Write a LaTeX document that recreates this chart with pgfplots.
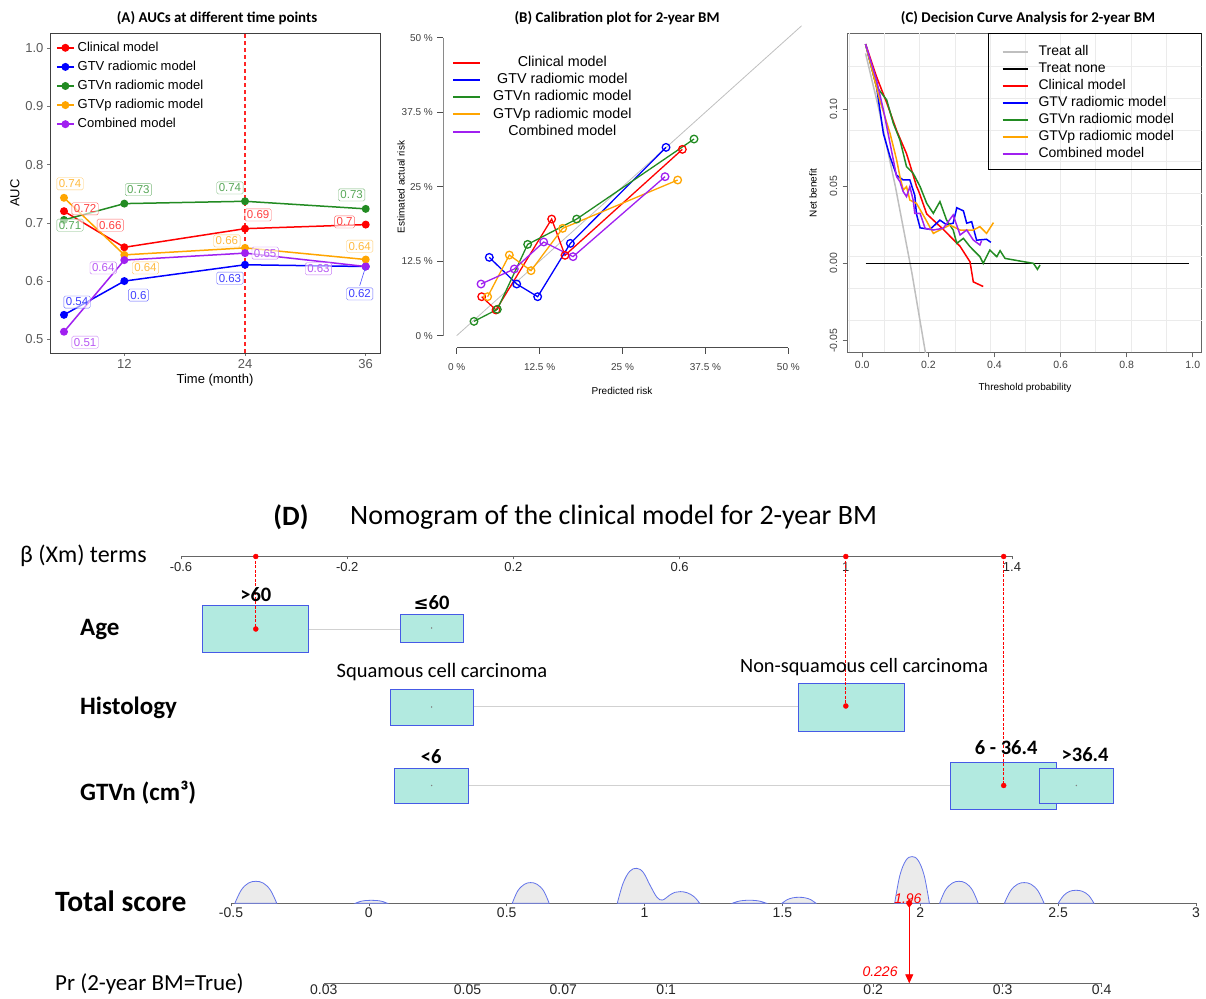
\documentclass[border=0pt]{standalone}
\usepackage{fontspec}
\setmainfont{Liberation Sans}
\newfontfamily\carlito{Carlito}
\newfontfamily\dejavu{DejaVu Sans}
\usepackage{pgfplots}
\pgfplotsset{compat=1.18}
\usetikzlibrary{arrows.meta}
\definecolor{cRed}{HTML}{FF0000}
\definecolor{cBlue}{HTML}{0000FF}
\definecolor{cGreen}{HTML}{228B22}
\definecolor{cOrange}{HTML}{FFA500}
\definecolor{cPurple}{HTML}{A020F0}
\definecolor{boxfill}{RGB}{178,234,224}
\definecolor{boxline}{RGB}{70,90,230}
\newcommand{\fs}[1]{\fontsize{#1}{#1}\selectfont}
\pgfplotsset{
  every axis/.append style={/pgf/number format/assume math mode=true},
  nomo/.style={scale only axis, anchor=south west, hide y axis, axis x line*=bottom,
     ymin=0, ymax=1, height=10pt,
     axis line style={black!60, line width=1.1pt}, tick align=outside, major tick length=3pt,
     tick style={black!60, line width=0.6pt},
     xticklabel style={font=\fs{13}, text=black!85, inner sep=1pt}},
  bump/.style={draw=boxline!85, fill=black!8, line width=0.8pt, smooth, tension=0.6, no markers},
}
\tikzset{lab/.style={draw=#1!60!white, text=#1!75!white, fill=white, fill opacity=0.6, text opacity=1,
  rounded corners=1.5pt, inner sep=2pt, font=\fs{11.5}},
  reddot/.style={draw=cRed, line width=1pt, dash pattern=on 3pt off 1.5pt}}
\begin{document}
\begin{tikzpicture}[x=1pt,y=1pt]
\useasboundingbox (0pt,0pt) rectangle (1206pt,998pt);

% ---------------- Panel titles
\node[font=\carlito\bfseries\fs{14.9}] at (217pt,980pt) {(A) AUCs at different time points};
\node[font=\carlito\bfseries\fs{14.9}] at (617pt,980pt) {(B) Calibration plot for 2-year BM};
\node[font=\carlito\bfseries\fs{14.9}] at (1028pt,980pt) {(C) Decision Curve Analysis for 2-year BM};

% ---------------- Panel A
\begin{axis}[at={(50pt,645pt)}, anchor=south west, scale only axis, width=330pt, height=320pt,
  xmin=4.61, xmax=37.42, ymin=0.4765, ymax=1.026,
  xtick={12,24,36}, ytick={0.5,0.6,0.7,0.8,0.9,1.0},
  yticklabels={0.5,0.6,0.7,0.8,0.9,1.0},
  tick pos=left, tick align=outside, major tick length=3pt,
  tick style={black!55, line width=0.6pt},
  tick label style={font=\fs{13}, text=black!65},
  axis line style={black!75, line width=0.7pt},
  clip mode=individual,
  legend style={at={(0.018,0.977)}, anchor=north west, draw=none, fill=none, font=\fs{13},
     row sep=4.6pt, inner sep=0pt, nodes={inner ysep=1pt, inner xsep=3pt, text height=9.5pt, text depth=3pt}},
  legend cell align=left,
  legend image code/.code={\draw[mark repeat=2,mark phase=2] plot coordinates {(0pt,0pt) (8.5pt,0pt) (17pt,0pt)};},
]
\addplot[draw=cRed!85, line width=1.1pt, forget plot, dash pattern=on 4pt off 3pt] coordinates {(24,0.4765) (24,1.026)};
\addplot[cRed, line width=1.5pt, mark=*, mark size=3.2pt] coordinates {(6,0.720) (12,0.658) (24,0.690) (36,0.697)};
\addlegendentry{Clinical model}
\addplot[cBlue, line width=1.5pt, mark=*, mark size=3.2pt] coordinates {(6,0.542) (12,0.600) (24,0.628) (36,0.625)};
\addlegendentry{GTV radiomic model}
\addplot[cGreen, line width=1.5pt, mark=*, mark size=3.2pt] coordinates {(6,0.705) (12,0.733) (24,0.737) (36,0.724)};
\addlegendentry{GTVn radiomic model}
\addplot[cOrange, line width=1.5pt, mark=*, mark size=3.2pt] coordinates {(6,0.743) (12,0.645) (24,0.657) (36,0.637)};
\addlegendentry{GTVp radiomic model}
\addplot[cPurple, line width=1.5pt, mark=*, mark size=3.2pt] coordinates {(6,0.513) (12,0.636) (24,0.648) (36,0.625)};
\addlegendentry{Combined model}
\draw[cBlue!70, line width=0.6pt] (axis cs:35.4,0.592) -- (axis cs:36,0.625);
\node[lab=cOrange] at (axis cs:6.6,0.767) {0.74};
\node[lab=cRed] at (axis cs:8.1,0.724) {0.72};
\node[lab=cGreen] at (axis cs:6.6,0.696) {0.71};
\node[lab=cGreen] at (axis cs:13.4,0.757) {0.73};
\node[lab=cRed] at (axis cs:10.6,0.696) {0.66};
\node[lab=cPurple] at (axis cs:9.9,0.6225) {0.64};
\node[lab=cOrange] at (axis cs:14.1,0.6225) {0.64};
\node[lab=cBlue] at (axis cs:13.4,0.576) {0.6};
\node[lab=cBlue] at (axis cs:7.3,0.564) {0.54};
\node[lab=cPurple] at (axis cs:8.1,0.495) {0.51};
\node[lab=cGreen] at (axis cs:22.5,0.760) {0.74};
\node[lab=cRed] at (axis cs:25.3,0.7136) {0.69};
\node[lab=cOrange] at (axis cs:22.2,0.669) {0.66};
\node[lab=cPurple] at (axis cs:26.0,0.648) {0.65};
\node[lab=cBlue] at (axis cs:22.5,0.605) {0.63};
\node[lab=cGreen] at (axis cs:34.6,0.748) {0.73};
\node[lab=cRed] at (axis cs:33.9,0.7015) {0.7};
\node[lab=cOrange] at (axis cs:35.4,0.660) {0.64};
\node[lab=cPurple] at (axis cs:31.3,0.621) {0.63};
\node[lab=cBlue] at (axis cs:35.4,0.578) {0.62};
\end{axis}
\node[rotate=90, font=\fs{13}] at (15pt,805pt) {AUC};
\node[font=\fs{13}] at (215pt,618pt) {Time (month)};

% ---------------- Panel B
\begin{axis}[at={(443.4pt,650.4pt)}, anchor=south west, scale only axis, width=358.2pt, height=321.8pt,
  xmin=-2, xmax=52, ymin=-2, ymax=52,
  axis x line*=bottom, axis y line*=left, axis line style={draw=none},
  xtick={0,12.5,25,37.5,50}, xticklabels={0 \%,12.5 \%,25 \%,37.5 \%,50 \%},
  ytick={0,12.5,25,37.5,50}, yticklabels={0 \%,12.5 \%,25 \%,37.5 \%,50 \%},
  tick align=outside, major tick length=6pt, tick style={black!70, line width=0.6pt},
  tick label style={font=\fs{10}, text=black!75},
  xticklabel style={yshift=-6pt}, yticklabel style={xshift=-1pt},
  legend style={at={(0.024,0.912)}, anchor=north west, draw=none, fill=none, font=\fs{14.3},
     row sep=0.8pt, inner sep=0pt, nodes={inner ysep=1pt, inner xsep=12pt, text height=11pt, text depth=3.5pt}},
  legend cell align=center,
  legend image code/.code={\draw[line width=2pt] (0pt,0pt) -- (27pt,0pt);},
]
\addplot[black!25, line width=0.8pt, forget plot] coordinates {(0,0) (52,52)};
\addplot[cRed, line width=1.3pt, mark=o, mark size=3.8pt, mark options={line width=1.3pt}] coordinates {(3.77,6.54) (5.93,4.31) (14.32,19.57) (16.33,13.48) (34.02,31.26)};
\addlegendentry{Clinical model}
\addplot[cBlue, line width=1.3pt, mark=o, mark size=3.8pt, mark options={line width=1.3pt}] coordinates {(4.92,13.14) (9.05,8.67) (12.21,6.54) (17.14,15.49) (31.56,31.60)};
\addlegendentry{GTV radiomic model}
\addplot[cGreen, line width=1.3pt, mark=o, mark size=3.8pt, mark options={line width=1.3pt}] coordinates {(2.61,2.40) (6.13,4.42) (10.70,15.32) (18.09,19.57) (35.78,33.00)};
\addlegendentry{GTVn radiomic model}
\addplot[cOrange, line width=1.3pt, mark=o, mark size=3.8pt, mark options={line width=1.3pt}] coordinates {(4.67,6.54) (7.94,13.53) (11.21,10.91) (15.98,18.01) (33.32,26.12)};
\addlegendentry{GTVp radiomic model}
\addplot[cPurple, line width=1.3pt, mark=o, mark size=3.8pt, mark options={line width=1.3pt}] coordinates {(3.67,8.67) (8.69,11.19) (13.12,15.72) (17.54,13.26) (31.41,26.68)};
\addlegendentry{Combined model}
\draw[black!70, line width=0.7pt] (axis cs:0,-2) -- (axis cs:50,-2);
\draw[black!70, line width=0.7pt] (axis cs:-2,0) -- (axis cs:-2,50);
\end{axis}
\node[rotate=90, font=\fs{10}] at (401pt,811pt) {Estimated actual risk};
\node[font=\fs{10}] at (622pt,607.3pt) {Predicted risk};

% ---------------- Panel C
\begin{axis}[at={(847.7pt,645.7pt)}, anchor=south west, scale only axis, width=354pt, height=319pt,
  xmin=-0.044, xmax=1.027, ymin=-0.0576, ymax=0.149,
  xtick={0,0.2,0.4,0.6,0.8,1}, xticklabels={0.0,0.2,0.4,0.6,0.8,1.0},
  ytick={-0.05,0,0.05,0.1}, yticklabels={-0.05,0.00,0.05,0.10},
  yticklabel style={rotate=90, anchor=south, yshift=2pt},
  tick pos=left, tick align=outside, major tick length=5pt,
  tick style={black!60, line width=0.6pt},
  tick label style={font=\fs{10.5}, text=black!75},
  axis line style={black!60, line width=0.7pt},
  extra x ticks={-0.039,0.0675,0.174,0.2805,0.387,0.4935,0.6,0.7065,0.813,0.9195},
  extra x tick labels={},
  extra y ticks={-0.0367,-0.0162,0.0043,0.0248,0.0453,0.0658,0.0863,0.1068,0.1273},
  extra y tick labels={},
  extra tick style={grid=major, major tick length=0pt},
  major grid style={black!8, line width=0.6pt},
  legend style={at={(0.434,0.9655)}, anchor=north west, draw=none, fill=none, font=\fs{14},
     row sep=1pt, inner sep=0pt, nodes={inner ysep=1pt, inner xsep=10pt, text height=10.5pt, text depth=3.5pt}},
  legend cell align=left,
  legend image code/.code={\draw[line width=2pt] (0pt,0pt) -- (25pt,0pt);},
]
\addplot[color=black!25, line width=1.5pt] coordinates {(0.01,0.136) (0.05,0.100) (0.10,0.050) (0.15,-0.006) (0.20,-0.069)};
\addlegendentry{Treat all}
\addplot[color=black, line width=1.5pt] coordinates {(0.01,0) (0.99,0)};
\addlegendentry{Treat none}
\addplot[color=cRed, line width=1.5pt] coordinates {(0.01,0.142) (0.043,0.121) (0.074,0.104) (0.104,0.086) (0.134,0.071) (0.150,0.060) (0.164,0.050) (0.172,0.046) (0.195,0.032) (0.245,0.022) (0.296,0.011) (0.326,0.001) (0.336,-0.012) (0.366,-0.015)};
\addlegendentry{Clinical model}
\addplot[color=cBlue, line width=1.5pt] coordinates {(0.01,0.142) (0.043,0.1145) (0.064,0.084) (0.084,0.069) (0.104,0.057) (0.124,0.054) (0.144,0.054) (0.159,0.044) (0.164,0.032) (0.175,0.023) (0.205,0.022) (0.235,0.028) (0.255,0.025) (0.275,0.026) (0.286,0.036) (0.306,0.034) (0.316,0.026) (0.331,0.027) (0.346,0.015) (0.376,0.0156) (0.389,0.0136)};
\addlegendentry{GTV radiomic model}
\addplot[color=cGreen, line width=1.5pt] coordinates {(0.01,0.142) (0.043,0.1145) (0.074,0.1058) (0.094,0.0907) (0.114,0.0799) (0.134,0.0626) (0.154,0.0583) (0.175,0.0497) (0.195,0.0389) (0.215,0.0324) (0.235,0.040) (0.255,0.0281) (0.275,0.0216) (0.286,0.013) (0.306,0.0162) (0.326,0.0108) (0.356,0.0043) (0.366,0.0) (0.386,0.0086) (0.407,0.0043) (0.417,0.0082) (0.432,0.0032) (0.477,0.0015) (0.518,0.0) (0.530,-0.0039) (0.538,-0.0011)};
\addlegendentry{GTVn radiomic model}
\addplot[color=cOrange, line width=1.5pt] coordinates {(0.01,0.142) (0.053,0.1058) (0.084,0.0842) (0.104,0.067) (0.114,0.0562) (0.124,0.0475) (0.134,0.0497) (0.144,0.041) (0.164,0.0389) (0.19,0.0292) (0.215,0.0194) (0.235,0.0216) (0.265,0.0248) (0.296,0.0216) (0.336,0.0216) (0.356,0.0238) (0.376,0.0194) (0.397,0.0264)};
\addlegendentry{GTVp radiomic model}
\addplot[color=cPurple, line width=1.5pt] coordinates {(0.01,0.142) (0.043,0.1188) (0.064,0.0994) (0.084,0.0778) (0.104,0.0562) (0.114,0.0529) (0.124,0.0464) (0.134,0.0432) (0.144,0.0497) (0.154,0.041) (0.159,0.0324) (0.175,0.0324) (0.19,0.0227) (0.215,0.0216) (0.245,0.0227) (0.275,0.0313) (0.296,0.0184) (0.316,0.0216) (0.336,0.0151) (0.356,0.0119) (0.361,0.0147)};
\addlegendentry{Combined model}
\draw[black, line width=0.7pt] (axis description cs:0.397,0.5737) rectangle (axis description cs:1,1);
\end{axis}
\node[rotate=90, font=\fs{10}] at (813pt,805pt) {Net benefit};
\node[font=\fs{10}] at (1025pt,610.3pt) {Threshold probability};

% ---------------- Panel D : nomogram
\node[font=\carlito\bfseries\fs{28}] at (291pt,481pt) {(D)};
\node[font=\carlito\fs{28}, anchor=west, inner sep=0pt] at (350pt,481pt) {Nomogram of the clinical model for 2-year BM};
\node[font=\carlito\fs{24}, anchor=west, inner sep=0pt] at (20pt,442pt) {β (Xm) terms};
\node[font=\carlito\bfseries\fs{25}, anchor=west, inner sep=0pt] at (80pt,368pt) {Age};
\node[font=\carlito\bfseries\fs{25}, anchor=west, inner sep=0pt] at (80pt,290pt) {Histology};
\node[font=\carlito\bfseries\fs{25}, anchor=west, inner sep=0pt] at (80pt,205pt) {GTVn (cm³)};
\node[font=\carlito\bfseries\fs{29.5}, anchor=west, inner sep=0pt] at (55pt,97pt) {Total score};
\node[font=\carlito\fs{23}, anchor=west, inner sep=0pt] at (55pt,14pt) {Pr (2-year BM=True)};

% beta scale
\begin{axis}[nomo, at={(181pt,441.5pt)}, width=831pt,
  xmin=-0.6, xmax=1.4,
  xtick={-0.6,-0.2,0.2,0.6,1,1.4}, xticklabels={-0.6,-0.2,0.2,0.6,1,1.4},
  xticklabel style={yshift=-2pt}]
\end{axis}

% rows
\begin{axis}[at={(181pt,168pt)}, anchor=south west, scale only axis, width=831pt, height=273.5pt,
  xmin=-0.6, xmax=1.4, ymin=-830, ymax=-556.5, hide axis, clip=false]
\addplot[black!18, line width=0.8pt] coordinates {(-0.42,-629) (0.003,-629)};
\addplot[black!18, line width=0.8pt] coordinates {(0.003,-706) (1.0125,-706)};
\addplot[black!18, line width=0.8pt] coordinates {(0.003,-785.5) (1.38,-785.5)};
\addplot[fill=boxfill, draw=boxline, line width=0.9pt] coordinates {(-0.549,-652) (-0.294,-652) (-0.294,-605) (-0.549,-605)} -- cycle;
\addplot[fill=boxfill, draw=boxline, line width=0.9pt] coordinates {(-0.073,-642) (0.079,-642) (0.079,-614) (-0.073,-614)} -- cycle;
\addplot[fill=boxfill, draw=boxline, line width=0.9pt] coordinates {(-0.097,-725) (0.103,-725) (0.103,-689) (-0.097,-689)} -- cycle;
\addplot[fill=boxfill, draw=boxline, line width=0.9pt] coordinates {(0.885,-731) (1.140,-731) (1.140,-683) (0.885,-683)} -- cycle;
\addplot[fill=boxfill, draw=boxline, line width=0.9pt] coordinates {(-0.087,-803) (0.093,-803) (0.093,-768) (-0.087,-768)} -- cycle;
\addplot[fill=boxfill, draw=boxline, line width=0.9pt] coordinates {(1.253,-809) (1.508,-809) (1.508,-762) (1.253,-762)} -- cycle;
\addplot[fill=boxfill, draw=boxline, line width=0.9pt] coordinates {(1.465,-803) (1.645,-803) (1.645,-768) (1.465,-768)} -- cycle;
\addplot[only marks, mark=*, mark size=0.5pt, black!50] coordinates {(0.003,-628) (0.003,-707) (0.003,-785.5) (1.555,-785.5)};
\draw[reddot] (axis cs:-0.42,-556.5) -- (axis cs:-0.42,-629);
\draw[reddot] (axis cs:1.0,-556.5) -- (axis cs:1.0,-706);
\draw[reddot] (axis cs:1.38,-556.5) -- (axis cs:1.38,-785.5);
\addplot[only marks, mark=*, mark size=2.5pt, red] coordinates {(-0.42,-556.5) (1.0,-556.5) (1.38,-556.5) (-0.42,-629) (1.0,-706) (1.38,-785.5)};
\node[font=\carlito\bfseries\fs{20.5}] at (axis cs:-0.42,-595) {>60};
\node[font=\carlito\bfseries\fs{20.5}] at (axis cs:0.003,-603) {{\dejavu\fs{18}≤}60};
\node[font=\carlito\fs{20.5}] at (axis cs:0.028,-672.5) {Squamous cell carcinoma};
\node[font=\carlito\fs{20.3}] at (axis cs:1.044,-666.7) {Non-squamous cell carcinoma};
\node[font=\carlito\bfseries\fs{20.5}] at (axis cs:0.002,-757) {<6};
\node[font=\carlito\bfseries\fs{20.5}] at (axis cs:1.386,-748) {6 - 36.4};
\node[font=\carlito\bfseries\fs{20.5}] at (axis cs:1.576,-755) {>36.4};
\end{axis}

% total score
\begin{axis}[nomo, at={(231pt,94.7pt)}, width=965pt, height=50pt, ymin=0, ymax=50, clip=false,
  xmin=-0.5, xmax=3,
  xtick={-0.5,0,0.5,1,1.5,2,2.5,3}, xticklabels={-0.5,0,0.5,1,1.5,2,2.5,3},
  xticklabel style={font=\fs{14}}]
\addplot[bump] coordinates {(-0.486,0) (-0.463,13.2) (-0.437,20.2) (-0.41,22) (-0.383,20.2) (-0.357,13.2) (-0.334,0)} \closedcycle;
\addplot[bump] coordinates {(-0.049,0) (-0.032,1.8) (-0.011,2.8) (0.009,3) (0.029,2.8) (0.050,1.8) (0.067,0)} \closedcycle;
\addplot[bump] coordinates {(0.520,0) (0.540,12.4) (0.564,19.0) (0.587,20.7) (0.610,19.0) (0.634,12.4) (0.654,0)} \closedcycle;
\addplot[bump] coordinates {(0.901,0) (0.922,20) (0.946,32) (0.971,35) (0.995,31) (1.02,18) (1.045,6) (1.065,3.3) (1.09,8) (1.11,11) (1.13,11.7) (1.155,10.5) (1.18,6.5) (1.2,0)} \closedcycle;
\addplot[bump] coordinates {(1.318,0) (1.337,1.8) (1.358,2.8) (1.38,3) (1.402,2.8) (1.423,1.8) (1.442,0)} \closedcycle;
\addplot[bump] coordinates {(1.498,0) (1.517,3.6) (1.538,5.5) (1.56,6) (1.582,5.5) (1.603,3.6) (1.622,0)} \closedcycle;
\addplot[bump] coordinates {(1.907,0) (1.926,28) (1.948,43) (1.97,46.7) (1.992,43) (2.014,28) (2.033,0)} \closedcycle;
\addplot[bump] coordinates {(2.07,0) (2.091,13.2) (2.116,20.2) (2.14,22) (2.165,20.2) (2.189,13.2) (2.21,0)} \closedcycle;
\addplot[bump] coordinates {(2.305,0) (2.327,12.4) (2.352,19) (2.377,20.7) (2.402,19) (2.427,12.4) (2.449,0)} \closedcycle;
\addplot[bump] coordinates {(2.5,0) (2.52,7.8) (2.542,12) (2.565,13) (2.588,12) (2.611,7.8) (2.63,0)} \closedcycle;
\addplot[draw=red, line width=0.8pt, -{Triangle[length=9pt,width=8pt]}] coordinates {(1.96,0) (1.96,-80)};
\addplot[red, fill=red, only marks, mark=diamond*, mark size=4pt] coordinates {(1.96,0)};
\node[font=\itshape\fs{14}, text=red] at (axis cs:1.955,5) {1.96};
\node[font=\itshape\fs{14}, text=red] at (axis cs:1.854,-68.4) {0.226};
\end{axis}

% probability scale
\begin{axis}[nomo, at={(323.7pt,14.5pt)}, width=778pt, height=1pt,
  xmin=-0.164, xmax=2.655,
  xtick={-0.164,0.357,0.704,1.077,1.827,2.296,2.655},
  xticklabels={0.03,0.05,0.07,0.1,0.2,0.3,0.4},
  xticklabel style={font=\fs{14}, yshift=2.5pt}]
\end{axis}
\end{tikzpicture}
\end{document}
